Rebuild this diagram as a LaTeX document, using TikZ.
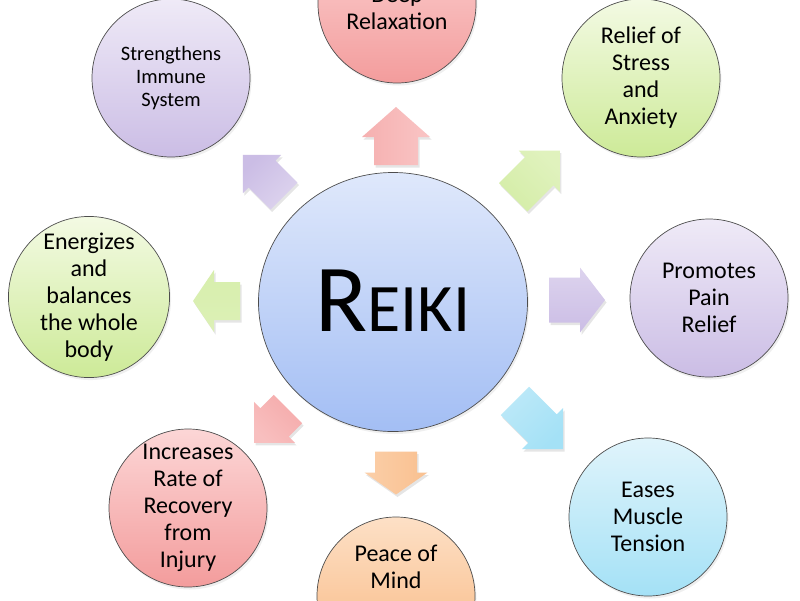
\documentclass[tikz,border=0pt]{standalone}
\usepackage{fontspec}
\setmainfont{Carlito}
\usetikzlibrary{shapes.geometric,shadows}

\definecolor{outl}{HTML}{4D4D4D}
\definecolor{purT}{HTML}{EFEAF7}\definecolor{purB}{HTML}{CBBDE5}
\definecolor{pinT}{HTML}{FCD6D6}\definecolor{pinB}{HTML}{F39C9C}
\definecolor{grnT}{HTML}{F3FAE3}\definecolor{grnB}{HTML}{CDEA98}
\definecolor{orgT}{HTML}{FDE0C6}\definecolor{orgB}{HTML}{F8B57C}
\definecolor{cyaT}{HTML}{E0F4FB}\definecolor{cyaB}{HTML}{A4E1F6}
\definecolor{bluT}{HTML}{DFE8FB}\definecolor{bluB}{HTML}{A3BEF4}

% cx cy angle length headwidth shaftwidth headlength topcolor bottomcolor
\newcommand\blockarrow[9]{%
  \begin{scope}[shift={(#1+1.5,#2+2.5)},rotate=#3]
    \fill[black,opacity=.10] (-#4/2,-#6/2) -- (#4/2-#7,-#6/2) -- (#4/2-#7,-#5/2) -- (#4/2,0)
      -- (#4/2-#7,#5/2) -- (#4/2-#7,#6/2) -- (-#4/2,#6/2) -- cycle;
  \end{scope}
  \begin{scope}[shift={(#1,#2)},rotate=#3]
    \path[top color=#8,bottom color=#9,shading angle=-#3] (-#4/2,-#6/2) -- (#4/2-#7,-#6/2) -- (#4/2-#7,-#5/2) -- (#4/2,0)
      -- (#4/2-#7,#5/2) -- (#4/2-#7,#6/2) -- (-#4/2,#6/2) -- cycle;
  \end{scope}}

\begin{document}
\begin{tikzpicture}[x=1pt,y=-1pt,
  bubble/.style={circle,draw=outl,line width=0.7pt,minimum size=158pt,inner sep=0pt,
    align=center,font=\fontsize{24}{27}\selectfont,
    drop shadow={opacity=.12,shadow xshift=1.5pt,shadow yshift=-2.5pt}},
  txt/.style={align=center,inner sep=0pt,font=\fontsize{24}{27}\selectfont}]
\useasboundingbox (0,0) rectangle (800,600);
\clip (0,0) rectangle (800,600);
\fill[white] (0,0) rectangle (800,600);

% centre
\node[ellipse,draw=outl,line width=0.7pt,minimum width=269pt,minimum height=259pt,
  top color=bluT,bottom color=bluB,
  drop shadow={opacity=.12,shadow xshift=1.5pt,shadow yshift=-2.5pt}] (reiki) at (393,302) {};
\node[inner sep=0pt] (reikitext) at (393,301) {\fontsize{96}{96}\selectfont R\fontsize{68}{68}\selectfont EIKI};

% outer circles
\node[bubble,top color=purT,bottom color=purB,font=\fontsize{20.5}{23}\selectfont] (immune) at (171,78) {Strengthens\\Immune\\System};
\node[bubble,top color=pinT,bottom color=pinB] (deep) at (397,4) {};
\node[txt] (deeptext) at (397,8) {Deep\\Relaxation};
\node[bubble,top color=grnT,bottom color=grnB] (stress) at (641,78) {Relief of\\Stress\\and\\Anxiety};
\node[bubble,top color=grnT,bottom color=grnB,minimum size=160pt] (energy) at (89,297) {Energizes\\and\\balances\\the whole\\body};
\node[bubble,top color=purT,bottom color=purB] (pain) at (709,298) {Promotes\\Pain\\Relief};
\node[bubble,top color=pinT,bottom color=pinB] (injury) at (188,508) {Increases\\Rate of\\Recovery\\from\\Injury};
\node[bubble,top color=orgT,bottom color=orgB] (peace) at (396,596) {};
\node[txt] (peacetext) at (396,567) {Peace of\\Mind};
\node[bubble,top color=cyaT,bottom color=cyaB] (muscle) at (648,517) {Eases\\Muscle\\Tension};

% block arrows
\blockarrow{396}{136}{90}{58}{68}{44}{30}{pinT!70!pinB}{pinB!80!white}
\blockarrow{536.5}{174}{45}{66}{58}{40}{29}{grnT!50!grnB}{grnB!85!white}
\blockarrow{577}{300}{0}{56}{65}{45}{25}{purT!50!purB}{purB}
\blockarrow{539}{425}{-45}{68}{58}{40}{29}{cyaT!40!cyaB}{cyaB}
\blockarrow{396}{473}{-90}{43}{63}{42}{22}{orgT!60!orgB}{orgB!85!white}
\blockarrow{271}{426}{-135}{48}{58}{40}{29}{pinT!60!pinB}{pinB!85!white}
\blockarrow{216.5}{301}{180}{47}{62}{38}{21}{grnT!40!grnB}{grnB!80!white}
\blockarrow{263.5}{175.5}{135}{58}{54}{38}{27}{purT!50!purB}{purB}
\end{tikzpicture}
\end{document}
